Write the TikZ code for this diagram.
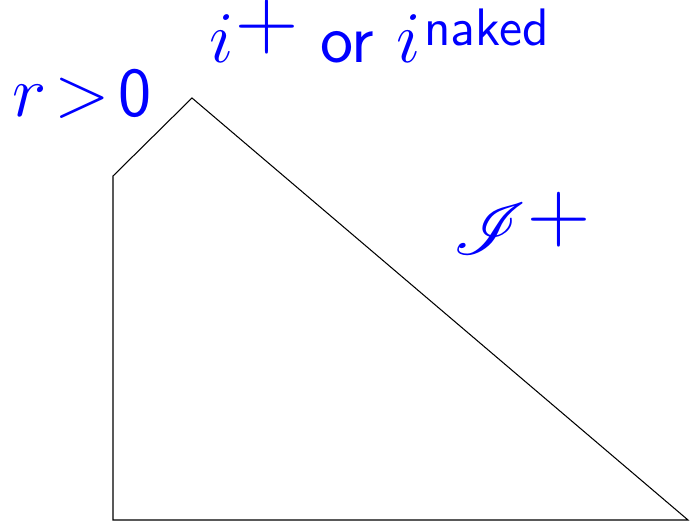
\documentclass[tikz,border=0pt]{standalone}
\usepackage{amsmath, amssymb, mathrsfs}
\usepackage{tikz}
\usetikzlibrary{positioning}

% raised small sans superscript, and a raised plus
\newcommand{\supraise}[2]{\kern1pt\raisebox{#1}{\fontsize{15}{18}\selectfont\sffamily #2}}
\newcommand{\supplus}[1]{\kern0.5pt\raisebox{#1}{\fontsize{26}{30}\selectfont$+$}}

\begin{document}
\begin{tikzpicture}[
          x=0.01cm, y=-0.01cm,
          lbl/.style={blue, font=\fontsize{20}{24}\selectfont\sffamily, inner sep=0pt, anchor=base},
          edge/.style={black, line width=0.3pt, line join=miter}
      ]
      \useasboundingbox (0,0) rectangle (691,522);

      \coordinate (bl) at (113,520);
      \coordinate (tl) at (113,176);
      \coordinate (tip) at (192,98);
      \coordinate (br) at (688,520);

      \draw[edge] (bl) -- (tl) -- (tip) -- (br) -- cycle;

      \node[lbl] (rpos) at (82,117) {$r\!>\!\textsf{0}$};
      \node[lbl] (iplus) at (379,63) {$i$\supplus{4.2pt}\ or $i$\supraise{5pt}{naked}};
      \node[lbl] (scri) at (522,255) {$\mathscr{I}$\supplus{3.9pt}};

      \end{tikzpicture}
\end{document}
